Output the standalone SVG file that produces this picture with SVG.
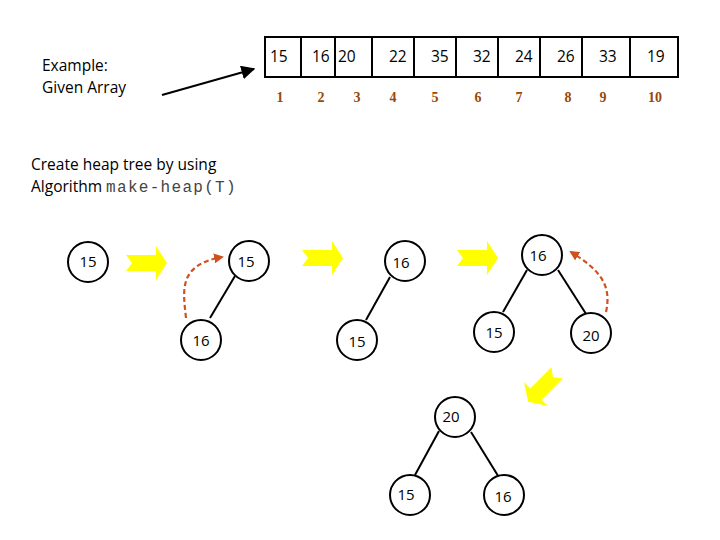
<svg xmlns="http://www.w3.org/2000/svg" width="720" height="540" viewBox="0 0 720 540">
<style>
.t{font-family:"Open Sans","Liberation Sans",sans-serif;font-size:15.5px;fill:#000}
.idx{font-family:"Liberation Serif",serif;font-weight:bold;font-size:14px;fill:#984807;text-anchor:middle}
.n circle{fill:#fff;stroke:#000;stroke-width:2}
.n text{font-family:"Open Sans","Liberation Sans",sans-serif;font-size:15px;text-anchor:middle;fill:#000}
.e{stroke:#000;stroke-width:2;fill:none}
.d{stroke:#D0501E;stroke-width:2.2;stroke-dasharray:5,3;fill:none}
.y{fill:#FFFF00}
.cell{fill:#fff;stroke:#000;stroke-width:2}
</style>
<defs>
<marker id="ab" viewBox="0 0 10 10" refX="9" refY="5" markerWidth="7" markerHeight="7" orient="auto"><path d="M0,0 L10,5 L0,10 Z" fill="#000"/></marker>
<marker id="ao" viewBox="0 0 10 10" refX="8" refY="5" markerWidth="4.5" markerHeight="4.5" orient="auto"><path d="M0,0 L10,5 L0,10 Z" fill="#D0501E"/></marker>
<path id="ya" d="M-20,-8 L10,-8 L10,-17 L21,0 L10,17 L10,8 L-20,8 L-14,0 Z"/>
</defs>
<rect width="720" height="540" fill="#fff"/>
<g id="array">
<rect class="cell" x="265" y="37" width="413" height="40"/>
<path class="e" d="M301,37V77M335,37V77M372,37V77M414,37V77M456,37V77M498,37V77M540,37V77M582,37V77M630,37V77"/>
<g class="t">
<text x="270" y="62">15</text><text x="312" y="62">16</text><text x="338" y="62">20</text><text x="389" y="62">22</text><text x="431" y="62">35</text><text x="473" y="62">32</text><text x="515" y="62">24</text><text x="557" y="62">26</text><text x="599" y="62">33</text><text x="647" y="62">19</text>
</g>
<g class="idx">
<text x="280" y="102">1</text><text x="321" y="102">2</text><text x="357" y="102">3</text><text x="393" y="102">4</text><text x="435" y="102">5</text><text x="478" y="102">6</text><text x="519" y="102">7</text><text x="568" y="102">8</text><text x="603" y="102">9</text><text x="655" y="102">10</text>
</g>
</g>
<g id="labels">
<text class="t" x="42" y="71">Example:</text>
<text class="t" x="42" y="93">Given Array</text>
<text class="t" x="31" y="170">Create heap tree by using</text>
<text class="t" x="31" y="192">Algorithm <tspan font-family="'Liberation Mono',monospace" font-size="16" letter-spacing="1.3" fill="#444">make-heap(T)</tspan></text>
</g>
<g id="connectors">
<line class="e" x1="162" y1="95" x2="254" y2="69" marker-end="url(#ab)"/>
<line class="e" x1="235" y1="276" x2="210" y2="318"/>
<line class="e" x1="390" y1="277" x2="366" y2="320"/>
<line class="e" x1="527" y1="270" x2="503" y2="312"/>
<line class="e" x1="558" y1="270" x2="588" y2="317"/>
<line class="e" x1="439" y1="431" x2="415" y2="475"/>
<line class="e" x1="471" y1="432" x2="500" y2="479"/>
<path class="d" d="M186,318 C183,290 178,265 222,257" marker-end="url(#ao)"/>
<path class="d" d="M606,312 C612,285 600,270 571,252" marker-end="url(#ao)"/>
</g>
<g id="yellow-arrows" class="y">
<use href="#ya" transform="translate(146,263)"/>
<use href="#ya" transform="translate(322,258)"/>
<use href="#ya" transform="translate(477,258)"/>
<use href="#ya" transform="translate(543,387) rotate(135)"/>
</g>
<g id="n1" class="n"><circle cx="88" cy="262" r="20"/><text x="88" y="267">15</text></g>
<g id="n2" class="n"><circle cx="249" cy="261" r="20"/><text x="246" y="267">15</text></g>
<g id="n3" class="n"><circle cx="201" cy="340" r="20"/><text x="201" y="346">16</text></g>
<g id="n4" class="n"><circle cx="405" cy="261" r="20"/><text x="401" y="268">16</text></g>
<g id="n5" class="n"><circle cx="357" cy="340" r="20"/><text x="357" y="347">15</text></g>
<g id="n6" class="n"><circle cx="542" cy="255" r="20"/><text x="538" y="261">16</text></g>
<g id="n7" class="n"><circle cx="494" cy="332" r="20"/><text x="494" y="338">15</text></g>
<g id="n8" class="n"><circle cx="591" cy="333" r="20"/><text x="591" y="341">20</text></g>
<g id="n9" class="n"><circle cx="455" cy="417" r="20"/><text x="451" y="422">20</text></g>
<g id="n10" class="n"><circle cx="410" cy="495" r="20"/><text x="406" y="500">15</text></g>
<g id="n11" class="n"><circle cx="504" cy="495" r="20"/><text x="503" y="502">16</text></g>
</svg>
